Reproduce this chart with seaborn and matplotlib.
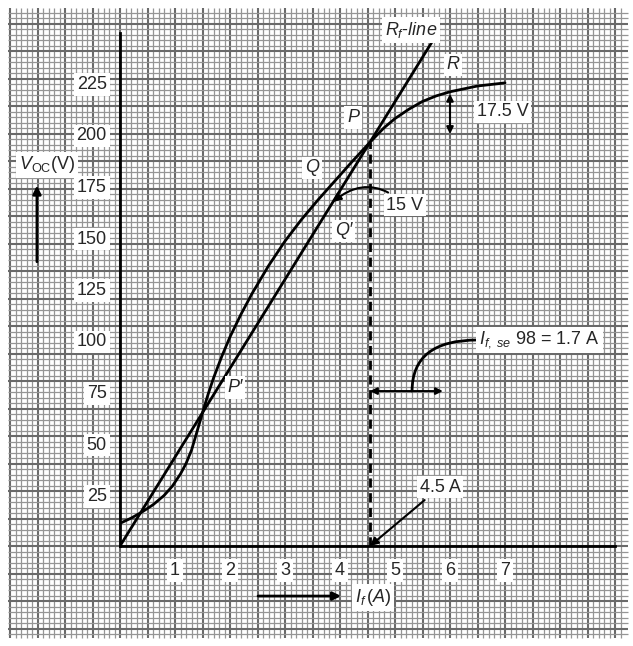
import numpy as np
import seaborn as sns
import matplotlib.pyplot as plt

sns.set_style("white")
plt.rcParams['font.family'] = ['Liberation Sans', 'DejaVu Sans']
plt.rcParams['mathtext.fontset'] = 'custom'
plt.rcParams['mathtext.rm'] = 'Liberation Sans'
plt.rcParams['mathtext.it'] = 'Liberation Sans:italic'

# open circuit characteristic (field current A, voltage V)
occ_if = [0, 0.2, 0.4, 0.6, 0.8, 0.95, 1.1, 1.2, 1.3, 1.4, 1.5, 1.6, 1.7, 1.85,
          2.0, 2.2, 2.4, 2.7, 3.0, 3.3, 3.6, 3.9, 4.2, 4.545, 4.8, 5.0, 5.25,
          5.5, 5.75, 6.0, 6.5, 7.0]
occ_v = [11, 13.5, 16.5, 20, 24.5, 29, 35, 40, 46.5, 55.5, 64.7, 73.5, 81.5, 92,
         101.5, 112.5, 122.5, 136, 148, 158.5, 168, 177, 186, 196, 203, 207.5, 212,
         215.8, 218.5, 220.5, 223.3, 224.8]

# field resistance line
rf_if = [0, 5.68]
rf_v = [0, 245]

x_ticks = [1, 2, 3, 4, 5, 6, 7]
y_ticks = [25, 50, 75, 100, 125, 150, 175, 200, 225]

fig = plt.figure(figsize=(6.33, 6.46), dpi=100)

# graph paper background (pixel coordinates)
bg = fig.add_axes([0, 0, 1, 1])
bg.set_xlim(0, 633)
bg.set_ylim(646, 0)
bg.axis('off')
step = 5.5
xs = 120 + step * np.arange(-20, 92)
xs = xs[(xs >= 8) & (xs <= 628)]
ys = 546 - step * np.arange(-17, 100)
ys = ys[(ys >= 8) & (ys <= 638)]
for x in xs:
    major = int(round((x - 120) / step)) % 5 == 0
    bg.vlines(x, 8, 638, color='#6a6a6a' if major else '#959595',
              lw=1.5 if major else 0.9)
for y in ys:
    major = int(round((546 - y) / step)) % 5 == 0
    bg.hlines(y, 8, 628, color='#6a6a6a' if major else '#959595',
              lw=1.5 if major else 0.9)

# main axes
ax = fig.add_axes([120 / 633, (646 - 546) / 646, (615 - 120) / 633, (546 - 33) / 646])
ax.set_facecolor('none')
ax.set_xlim(0, (615 - 120) / 55)
ax.set_ylim(0, (546 - 33) / 2.06)
for s in ['top', 'right']:
    ax.spines[s].set_visible(False)
for s in ['left', 'bottom']:
    ax.spines[s].set_linewidth(2)
    ax.spines[s].set_color('black')
ax.set_xticks(x_ticks)
ax.set_yticks(y_ticks)
ax.tick_params(direction='out', length=6.5, width=2, color='black',
               labelsize=13, pad=3)
ax.tick_params(axis='x', pad=5)
box = dict(facecolor='white', edgecolor='none', pad=2)
for lab in ax.get_xticklabels() + ax.get_yticklabels():
    lab.set_bbox(box)

sns.lineplot(x=occ_if, y=occ_v, ax=ax, color='black', lw=2, sort=False)
sns.lineplot(x=rf_if, y=rf_v, ax=ax, color='black', lw=2, sort=False)
ax.vlines(4.545, 0, 196, color='black', lw=2, linestyles=(0, (3.3, 2)))

fs = 13
ap = dict(arrowstyle='-|>', color='black', lw=1.5, mutation_scale=12)

ax.text(5.29, 250.5, r'$R_f$-$line$', fontsize=fs, ha='center', va='center', bbox=box)
ax.text(6.05, 233.5, 'R', fontsize=fs, style='italic', ha='center', va='center', bbox=box)
ax.text(4.24, 208, 'P', fontsize=fs, style='italic', ha='center', va='center', bbox=box)
ax.text(3.49, 183.5, 'Q', fontsize=fs, style='italic', ha='center', va='center', bbox=box)
ax.text(4.07, 153, 'Q\u2032', fontsize=fs, style='italic', ha='center', va='center', bbox=box)
ax.text(2.09, 77, 'P\u2032', fontsize=fs, style='italic', ha='center', va='center', bbox=box)

# 17.5 V gap
ax.annotate('', xy=(6.0, 219.5), xytext=(6.0, 200),
            arrowprops=dict(arrowstyle='<|-|>', color='black', lw=1.5,
                            mutation_scale=10, shrinkA=0, shrinkB=0),
            annotation_clip=False)
ax.text(6.96, 210.7, '17.5 V', fontsize=fs, ha='center', va='center', bbox=box)

# 15 V
ax.annotate('15 V', xy=(3.87, 167), xytext=(5.18, 165.5), fontsize=fs,
            ha='center', va='center', bbox=box,
            arrowprops=dict(ap, connectionstyle='arc3,rad=0.45', shrinkB=0),
            annotation_clip=False)

# 4.5 A
ax.annotate('4.5 A', xy=(4.545, 0), xytext=(5.82, 28.6), fontsize=fs,
            ha='center', va='center', bbox=box,
            arrowprops=dict(ap, shrinkB=0), annotation_clip=False)

# series field current
ax.annotate('', xy=(5.87, 75.2), xytext=(4.545, 75.2),
            arrowprops=dict(arrowstyle='<|-|>', color='black', lw=1.5,
                            mutation_scale=10, shrinkA=0, shrinkB=0),
            annotation_clip=False)
ax.annotate('', xy=(6.5, 100), xytext=(5.31, 75.2),
            arrowprops=dict(arrowstyle='-', color='black', lw=2,
                            connectionstyle='angle3,angleA=90,angleB=0',
                            shrinkA=0, shrinkB=0),
            annotation_clip=False)
ax.text(6.53, 100, r'$I_{f,\ se}$ 98 = 1.7 A', fontsize=fs, ha='left', va='center', bbox=box)

# axis labels with arrows
ax.text(-1.33, 185, r'$V_{\mathrm{OC}}$(V)', fontsize=fs, ha='center', va='center', bbox=box)
ax.annotate('', xy=(-1.51, 175), xytext=(-1.51, 138),
            arrowprops=dict(ap, lw=2, shrinkA=0, shrinkB=0), annotation_clip=False)
ax.text(4.6, -25, r'$I_f\,(A)$', fontsize=fs, ha='center', va='center', bbox=box)
ax.annotate('', xy=(4.02, -24.3), xytext=(2.51, -24.3),
            arrowprops=dict(ap, lw=2, shrinkA=0, shrinkB=0), annotation_clip=False)

fig.savefig('out.png', dpi=100)
